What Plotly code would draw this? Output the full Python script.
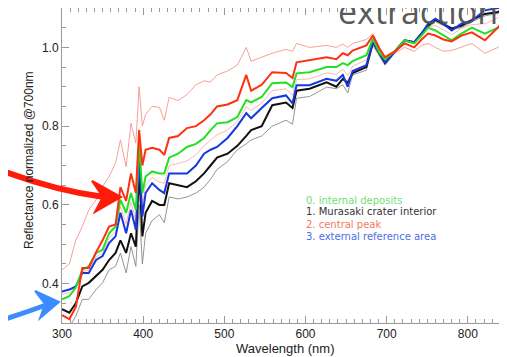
import plotly.graph_objects as go

# ---------------- data ----------------
wavelength = [300, 309, 317, 325, 333, 342, 350, 358, 366, 372, 379, 385, 391, 395, 399, 403, 411, 420,
              426, 432, 443, 454, 465, 475, 483, 491, 504, 516, 527, 533, 546, 559, 576, 584, 589, 605,
              626, 638, 646, 652, 658, 675, 683, 691, 698, 710, 722, 734, 743, 751, 760, 770, 780, 792,
              805, 821, 837, 848]

internal_deposits = [0.360, 0.368, 0.390, 0.435, 0.444, 0.478, 0.486, 0.528, 0.545, 0.613, 0.580, 0.630,
                     0.587, 0.757, 0.630, 0.672, 0.685, 0.680, 0.680, 0.720, 0.730, 0.747, 0.755, 0.770,
                     0.790, 0.807, 0.810, 0.823, 0.866, 0.860, 0.874, 0.909, 0.911, 0.899, 0.934, 0.937,
                     0.950, 0.950, 0.960, 0.955, 0.965, 0.980, 1.022, 0.987, 0.970, 0.990, 1.018, 1.010,
                     1.030, 1.050, 1.043, 1.030, 1.018, 1.035, 1.050, 1.035, 1.050, 1.070]

crater_interior = [0.335, 0.326, 0.350, 0.393, 0.402, 0.420, 0.435, 0.460, 0.478, 0.510, 0.478, 0.528,
                   0.494, 0.688, 0.520, 0.580, 0.610, 0.600, 0.600, 0.655, 0.650, 0.645, 0.660, 0.680,
                   0.700, 0.720, 0.730, 0.750, 0.775, 0.790, 0.800, 0.853, 0.860, 0.846, 0.890, 0.895,
                   0.911, 0.900, 0.920, 0.910, 0.935, 0.950, 1.013, 0.985, 0.960, 0.990, 1.018, 1.013,
                   1.035, 1.055, 1.070, 1.060, 1.048, 1.055, 1.070, 1.085, 1.090, 1.100]

central_peak = [0.320, 0.310, 0.340, 0.440, 0.440, 0.480, 0.510, 0.545, 0.550, 0.645, 0.610, 0.680,
                0.630, 0.790, 0.700, 0.740, 0.745, 0.740, 0.727, 0.770, 0.775, 0.795, 0.800, 0.815,
                0.830, 0.850, 0.855, 0.866, 0.930, 0.890, 0.905, 0.937, 0.935, 0.922, 0.962, 0.967,
                0.975, 0.970, 0.985, 0.980, 0.992, 1.005, 1.030, 0.997, 0.975, 0.990, 1.010, 1.000,
                1.020, 1.035, 1.030, 1.020, 1.015, 1.030, 1.038, 1.018, 1.050, 1.080]

external_reference = [0.380, 0.385, 0.393, 0.427, 0.427, 0.460, 0.470, 0.503, 0.520, 0.580, 0.528, 0.587,
                      0.537, 0.723, 0.570, 0.630, 0.655, 0.638, 0.630, 0.680, 0.680, 0.680, 0.700, 0.730,
                      0.740, 0.747, 0.770, 0.800, 0.833, 0.820, 0.846, 0.871, 0.878, 0.858, 0.904, 0.904,
                      0.920, 0.915, 0.930, 0.900, 0.940, 0.955, 1.013, 0.987, 0.962, 0.990, 1.018, 1.013,
                      1.035, 1.060, 1.073, 1.060, 1.043, 1.060, 1.068, 1.094, 1.100, 1.100]

# thin envelope curves
central_peak_upper = [0.435, 0.450, 0.510, 0.545, 0.587, 0.613, 0.647, 0.672, 0.706, 0.765, 0.697, 0.807,
                      0.757, 0.900, 0.800, 0.830, 0.850, 0.848, 0.815, 0.873, 0.865, 0.880, 0.905, 0.915,
                      0.912, 0.930, 0.940, 0.955, 1.000, 0.965, 0.975, 0.985, 0.995, 0.990, 1.010, 1.000,
                      1.005, 1.000, 1.008, 1.000, 1.010, 1.020, 1.035, 1.000, 0.975, 0.985, 1.000, 0.990,
                      1.005, 1.010, 1.000, 0.990, 0.992, 1.000, 1.010, 0.985, 1.000, 1.020]

central_peak_lower = [0.372, 0.378, 0.392, 0.430, 0.434, 0.468, 0.478, 0.515, 0.532, 0.596, 0.552, 0.607,
                      0.560, 0.740, 0.598, 0.650, 0.670, 0.658, 0.655, 0.700, 0.705, 0.712, 0.727, 0.750,
                      0.765, 0.778, 0.790, 0.812, 0.850, 0.840, 0.858, 0.890, 0.895, 0.878, 0.918, 0.920,
                      0.935, 0.932, 0.945, 0.928, 0.952, 0.968, 1.018, 0.990, 0.966, 0.990, 1.016, 1.010,
                      1.032, 1.052, 1.055, 1.045, 1.032, 1.048, 1.058, 1.060, 1.075, 1.085]

crater_interior_lower = [0.300, 0.290, 0.317, 0.360, 0.360, 0.385, 0.402, 0.435, 0.444, 0.478, 0.427, 0.494,
                         0.444, 0.600, 0.450, 0.528, 0.560, 0.575, 0.555, 0.620, 0.615, 0.620, 0.630, 0.645,
                         0.665, 0.690, 0.710, 0.740, 0.755, 0.765, 0.775, 0.800, 0.815, 0.805, 0.871, 0.875,
                         0.899, 0.895, 0.905, 0.884, 0.930, 0.942, 1.005, 0.980, 0.955, 0.985, 1.015, 1.010,
                         1.030, 1.050, 1.065, 1.055, 1.045, 1.050, 1.065, 1.080, 1.085, 1.090]

legend_labels = ["0. internal deposits", "1. Murasaki crater interior", "2. central peak", "3. external reference area"]
legend_colors = ["#74e074", "#333333", "#f07a62", "#4a6ee6"]

x_ticks = [300, 400, 500, 600, 700, 800]
y_ticks = [0.4, 0.6, 0.8, 1.0]

# ---------------- figure ----------------
# the page body has an 8 px margin, so the figure is laid out in screen coords shifted by OFF
OFF = 8
W, H = 507 - OFF, 357 - OFF
PLOT_L, PLOT_R, PLOT_T, PLOT_B = 62, 506, 8, 323  # screen pixels of the plot box
L = PLOT_L - OFF
R = W - (PLOT_R - OFF)
T = PLOT_T - OFF
B = H - (PLOT_B - OFF)
PW, PH = PLOT_R - PLOT_L, PLOT_B - PLOT_T


def paper(px, py):
    return (px - PLOT_L) / PW, (PLOT_B - py) / PH


fig = go.Figure()

thin = [
    (crater_interior_lower, "rgba(130,130,130,0.85)"),
    (central_peak_upper, "rgba(245,150,140,0.9)"),
    (central_peak_lower, "rgba(245,170,165,0.8)"),
]
for ys, c in thin:
    fig.add_trace(go.Scatter(x=wavelength, y=ys, mode="lines", line=dict(color=c, width=1),
                             hoverinfo="skip", showlegend=False))

thick = [
    (crater_interior, "#111111"),
    (external_reference, "#1638e0"),
    (internal_deposits, "#22e022"),
    (central_peak, "#ff3010"),
]
for ys, c in thick:
    fig.add_trace(go.Scatter(x=wavelength, y=ys, mode="lines", line=dict(color=c, width=2),
                             hoverinfo="skip", showlegend=False))

axis_common = dict(showline=True, linecolor="#9a9a9a", linewidth=1, mirror="ticks", ticks="inside",
                   tickcolor="#9a9a9a", showgrid=False, zeroline=False, automargin=False,
                   tickfont=dict(family="Liberation Sans, Arial", size=12, color="#222222"))

fig.update_xaxes(range=[300, 847], tickvals=x_ticks, ticklen=7,
                 minor=dict(dtick=10, tick0=300, ticks="inside", ticklen=4, tickcolor="#9a9a9a"),
                 **axis_common)
fig.update_yaxes(range=[0.3, 1.1], tickvals=y_ticks, tickformat=".1f", ticklen=7,
                 minor=dict(dtick=0.05, tick0=0.3, ticks="inside", ticklen=4, tickcolor="#9a9a9a"),
                 **axis_common)

annotations = []
# axis titles
xt = paper(285, 348)
annotations.append(dict(text="Wavelength (nm)", x=xt[0], y=xt[1], xref="paper", yref="paper",
                        showarrow=False, font=dict(family="Liberation Sans, Arial", size=13, color="#222222"),
                        xanchor="center", yanchor="middle"))
yt = paper(29, 160)
annotations.append(dict(text="Reflectance normalized @700nm", x=yt[0], y=yt[1], xref="paper", yref="paper",
                        showarrow=False, textangle=-90,
                        font=dict(family="Liberation Sans, Arial", size=12, color="#222222"),
                        xanchor="center", yanchor="middle"))
# legend text block
for i, (lab, col) in enumerate(zip(legend_labels, legend_colors)):
    p = paper(304, 200 + 12 * i)
    annotations.append(dict(text=lab, x=p[0], y=p[1], xref="paper", yref="paper", showarrow=False,
                            xanchor="left", yanchor="middle",
                            font=dict(family="DejaVu Sans", size=10, color=col)))
# slide title fragment
p = paper(336, 11)
annotations.append(dict(text="extraction", x=p[0], y=p[1], xref="paper", yref="paper", showarrow=False,
                        xanchor="left", yanchor="middle",
                        font=dict(family="Open Sans", size=34, color="rgba(80,80,80,0.95)")))
fig.update_layout(annotations=annotations)


def path(points, closed=False):
    s = ""
    for k, (a, b) in enumerate(points):
        u, v = paper(a, b)
        s += ("M" if k == 0 else "L") + f" {u:.4f} {v:.4f} "
    if closed:
        s += "Z"
    return s


def qpath(p0, c, p1):
    a, b = paper(*p0)
    cx, cy = paper(*c)
    d, e = paper(*p1)
    return f"M {a:.4f} {b:.4f} Q {cx:.4f} {cy:.4f} {d:.4f} {e:.4f}"


shapes = [
    # red arrow
    dict(type="path", xref="paper", yref="paper", path=qpath((-10, 166), (50, 190), (104, 197)),
         line=dict(color="#ff1a0a", width=6)),
    dict(type="path", xref="paper", yref="paper",
         path=path([(92, 181), (121, 197), (95, 212), (103, 197)], closed=True),
         fillcolor="#ff1a0a", line=dict(color="#ff1a0a", width=2)),
    # blue arrow
    dict(type="path", xref="paper", yref="paper", path=qpath((-5, 322), (22, 314), (46, 305)),
         line=dict(color="#3a8cff", width=5)),
    dict(type="path", xref="paper", yref="paper",
         path=path([(35, 291), (59, 302), (40, 318), (45, 304)], closed=True),
         fillcolor="#3a8cff", line=dict(color="#3a8cff", width=2)),
]
fig.update_layout(shapes=shapes)

fig.update_layout(width=W, height=H, margin=dict(l=L, r=R, t=T, b=B, pad=0),
                  paper_bgcolor="white", plot_bgcolor="white", showlegend=False)

fig.write_html("out.html")
